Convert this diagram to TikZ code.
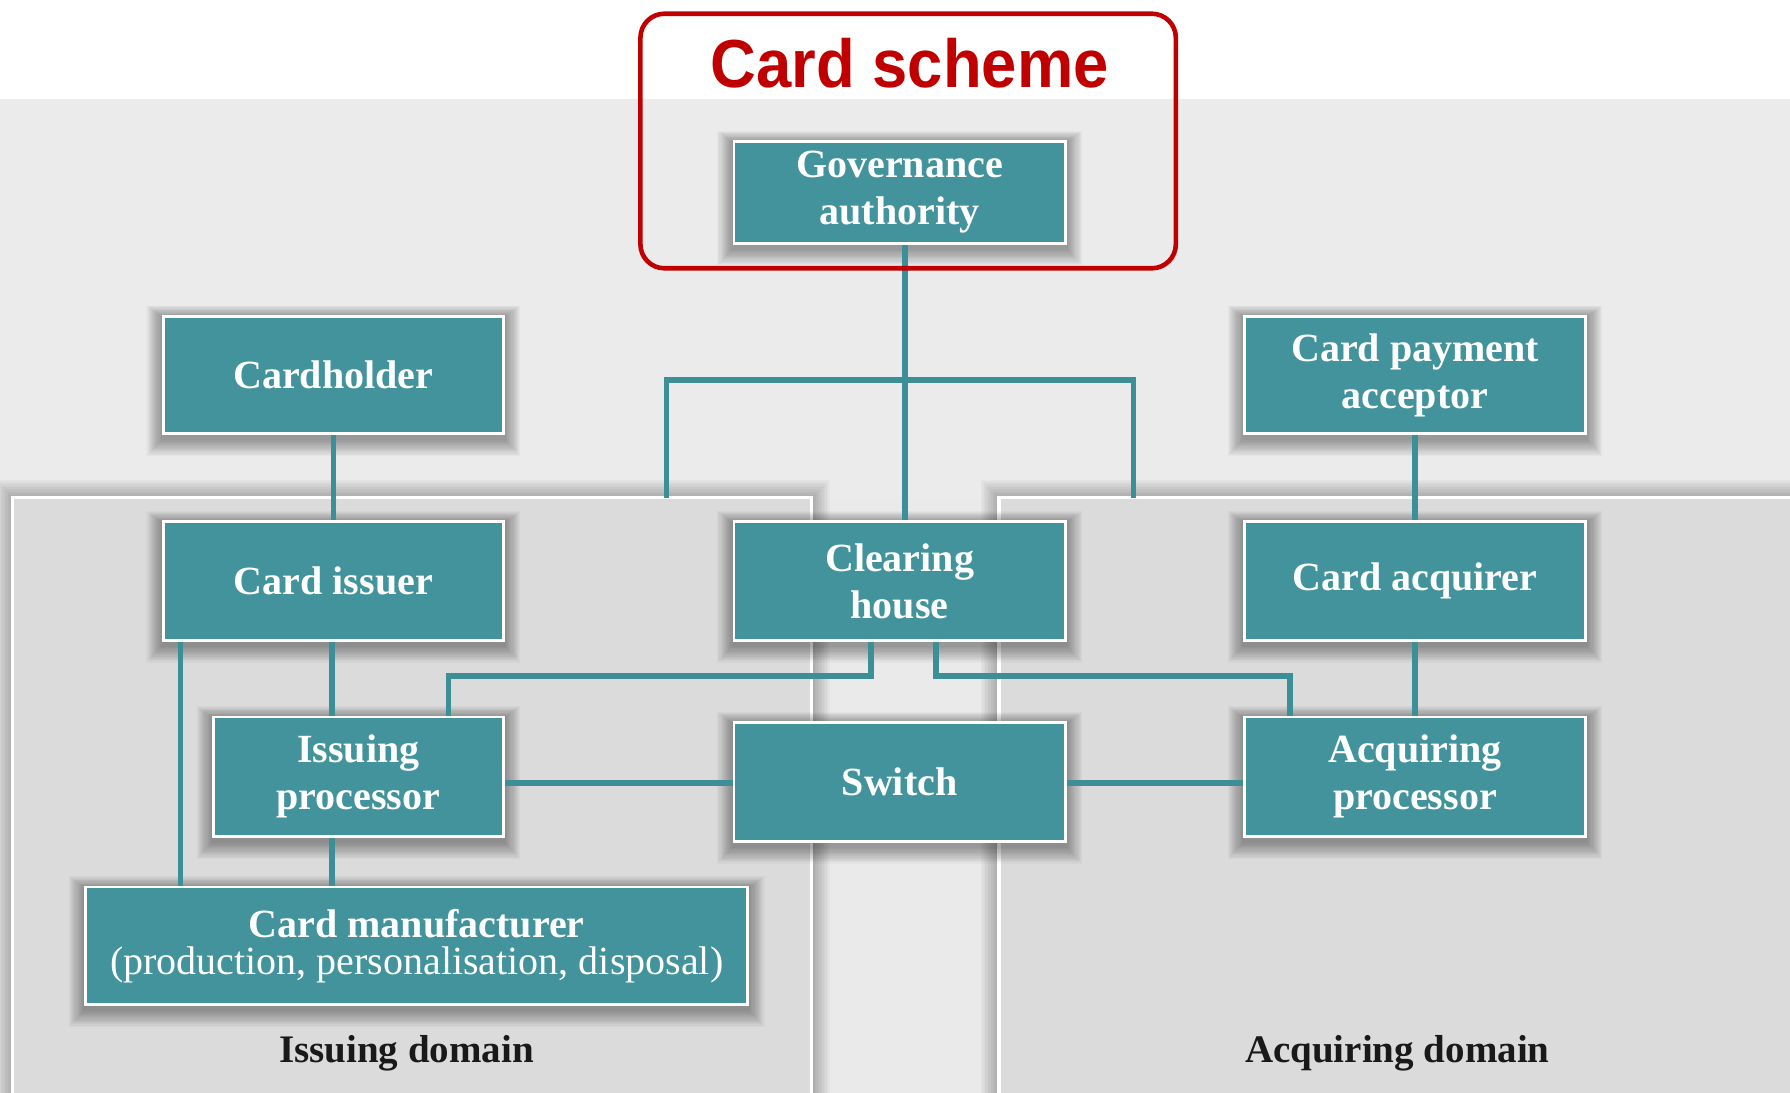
\documentclass[tikz,border=0pt]{standalone}
\usepackage{fontspec}
\usepackage{graphicx}
\setmainfont{Liberation Serif}
\newfontfamily\headfont{Liberation Sans}
\definecolor{tealbox}{HTML}{42939C}
\definecolor{tealline}{HTML}{3C8E97}
\definecolor{schemered}{HTML}{C00000}
\definecolor{bgtop}{HTML}{EBEBEB}
\definecolor{panelgray}{HTML}{DBDBDB}
\definecolor{midgray}{HTML}{EAEAEA}
\pgfdeclarelayer{back}
\pgfdeclarelayer{shad}
\pgfdeclarelayer{lines}
\pgfsetlayers{back,shad,lines,main}
\newcommand\mybox[6]{%
  \node[box, minimum width={(#4-#2)*0.5708pt}, minimum height={(#5-#3)*0.5708pt}] (#1) at ({(#2+#4)/2},{(#3+#5)/2}) {#6};
  \begin{pgfonlayer}{shad}
    \foreach \k in {1,...,14}{
      \fill[black, opacity=0.028] ([xshift=-\k*0.55pt, yshift=-\k*0.6pt-2pt]#1.south west) rectangle ([xshift=\k*0.55pt, yshift=\k*0.4pt-1pt]#1.north east);
    }
  \end{pgfonlayer}}
\tikzset{
  box/.style={draw=white, line width=1.4pt, fill=tealbox, text=white,
    font=\fontsize{20}{23.5}\selectfont\bfseries, align=center, inner sep=0pt},
  conn/.style={draw=tealline, line width=2.8pt, line join=miter},
  panel/.style={fill=panelgray, draw=white, line width=1.7pt},
  domlabel/.style={font=\fontsize{19.5}{23}\selectfont\bfseries, text=black!90}
}
\begin{document}
\begin{tikzpicture}[x=0.5708pt,y=-0.5708pt]
\useasboundingbox (0,0) rectangle (1568,957);
\clip (0,0) rectangle (1568,957);
\begin{pgfonlayer}{back}
% background
\fill[white] (0,0) rectangle (1568,957);
\fill[bgtop] (0,87) rectangle (1568,957);
\fill[midgray] (711,436) rectangle (875,957);
% panel glows
\foreach \k in {1,...,12}{
  \fill[black, opacity=0.022] ([xshift=-\k*0.75pt, yshift=\k*0.75pt]11,436) rectangle ([xshift=\k*0.75pt]711,1000);
  \fill[black, opacity=0.022] ([xshift=-\k*0.75pt, yshift=\k*0.75pt]875,436) rectangle (1600,1000);
}
% panels
\path[panel] (11,1000) -- (11,436) -- (711,436) -- (711,1000) -- cycle;
\path[panel] (875,1000) -- (875,436) -- (1600,436) -- (1600,1000) -- cycle;
\end{pgfonlayer}
% helper coordinates
\coordinate (gl) at (584,436);
\coordinate (gr) at (993,436);
\coordinate (bl) at (584,333);
\coordinate (br) at (993,333);
\coordinate (x158) at (158,0);
\coordinate (x291) at (291,0);
\coordinate (x763) at (763,0);
\coordinate (x793) at (793,0);
\coordinate (x820) at (820,0);
\coordinate (y686) at (0,686);
\coordinate (j1) at (393,592);
\coordinate (j2) at (1130,592);
% nodes
\mybox{gov}{643}{124}{933}{213}{Governance\\authority}
\mybox{holder}{143}{277}{441}{380}{Cardholder}
\mybox{cpa}{1090}{277}{1389}{380}{Card payment\\acceptor}
\mybox{issuer}{143}{457}{441}{561}{Card issuer}
\mybox{clear}{643}{457}{933}{561}{Clearing\\house}
\mybox{acq}{1090}{457}{1389}{561}{Card acquirer}
\mybox{ip}{187}{628}{441}{733}{Issuing\\processor}
\mybox{sw}{643}{633}{933}{737}{Switch}
\mybox{ap}{1090}{628}{1389}{733}{Acquiring\\processor}
\mybox{manuf}{75}{777}{655}{880}{Card manufacturer\\[-5pt]{\mdseries (production, personalisation, disposal)}}
% connectors
\begin{pgfonlayer}{lines}
\draw[conn] (gov.south -| x793) -- (clear.north -| x793);
\draw[conn] (gl) -- (bl) -- (br) -- (gr);
\draw[conn] (holder) -- (issuer);
\draw[conn] (cpa.south) -- (acq.north);
\draw[conn] (issuer.south -| x291) -- (ip.north -| x291);
\draw[conn] (ip.south -| x291) -- (manuf.north -| x291);
\draw[conn] (issuer.south -| x158) -- (manuf.north -| x158);
\draw[conn] (ip.east |- y686) -- (sw.west |- y686);
\draw[conn] (sw.east |- y686) -- (ap.west |- y686);
\draw[conn] (acq.south) -- (ap.north);
\draw[conn] (clear.south -| x763) |- (j1) -- (ip.north -| j1);
\draw[conn] (clear.south -| x820) |- (j2) -- (ap.north -| j2);
\end{pgfonlayer}
% domain labels
\node[domlabel] (idom) at (356,923) {Issuing domain};
\node[domlabel] (adom) at (1224,923) {Acquiring domain};
% card scheme frame
\draw[schemered, line width=2.3pt, rounded corners=12pt] (561,12) rectangle (1030,235);
\node[text=schemered, font=\headfont\fontsize{33}{36}\selectfont\bfseries] (scheme) at (797,55) {\scalebox{0.96}[1.03]{Card scheme}};
\end{tikzpicture}
\end{document}
